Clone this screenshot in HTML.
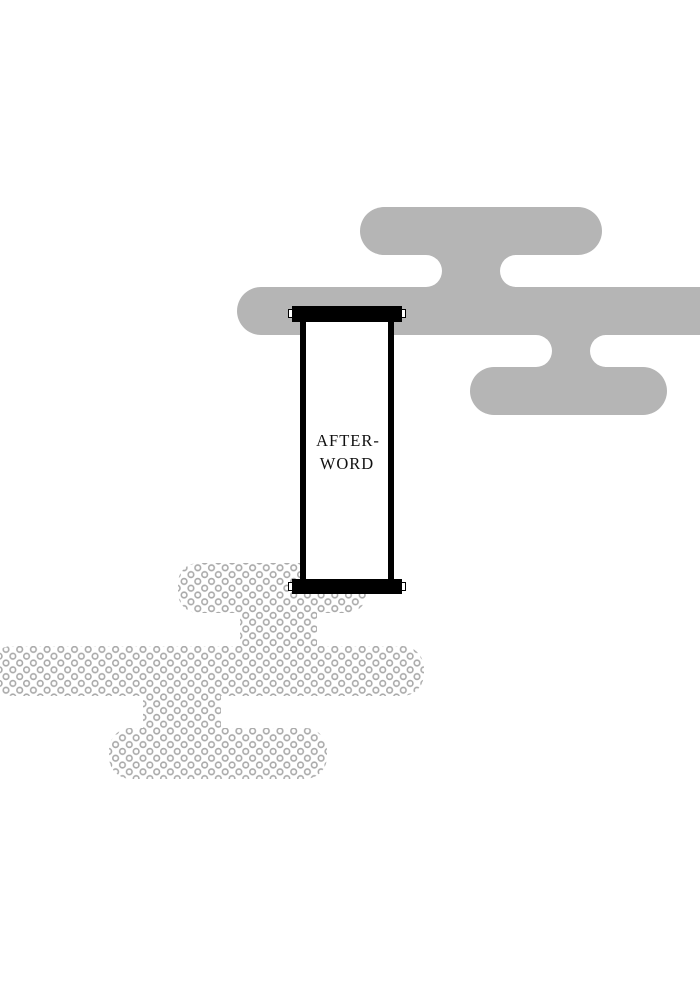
<!DOCTYPE html>
<html><head><meta charset="utf-8"><style>
html,body{margin:0;padding:0;background:#fff;width:700px;height:1005px;overflow:hidden}
svg{display:block}
</style></head><body>
<svg width="700" height="1005" viewBox="0 0 700 1005" xmlns="http://www.w3.org/2000/svg">
<defs>
<pattern id="dots" patternUnits="userSpaceOnUse" x="0" y="642.6" width="13.7" height="13.6">
<circle cx="6" cy="6.8" r="2.8" fill="none" stroke="#aaa" stroke-width="1.6"/>
<circle cx="12.85" cy="13.6" r="2.8" fill="none" stroke="#aaa" stroke-width="1.6"/>
<circle cx="-0.85" cy="13.6" r="2.8" fill="none" stroke="#aaa" stroke-width="1.6"/>
<circle cx="12.85" cy="0" r="2.8" fill="none" stroke="#aaa" stroke-width="1.6"/>
<circle cx="-0.85" cy="0" r="2.8" fill="none" stroke="#aaa" stroke-width="1.6"/>
</pattern>
<clipPath id="cl">
<rect x="178" y="563" width="189" height="50" rx="20"/>
<rect x="240" y="600" width="77" height="55"/>
<rect x="-10" y="646" width="434" height="50" rx="22"/>
<rect x="143" y="685" width="78" height="50"/>
<rect x="109" y="728" width="218" height="51" rx="22"/>
</clipPath>
</defs>
<rect x="0" y="540" width="440" height="260" fill="url(#dots)" clip-path="url(#cl)"/>

<g fill="#b5b5b5">
<rect x="360" y="207" width="242" height="48" rx="24"/>
<rect x="237" y="287" width="500" height="48" rx="24"/>
<rect x="470" y="367" width="197" height="48" rx="24"/>
<rect x="425" y="240" width="90" height="60"/>
<rect x="530" y="320" width="75" height="60"/>
</g>
<g fill="#fff">
<rect x="300" y="255" width="142" height="32" rx="16"/>
<rect x="500" y="255" width="240" height="32" rx="16"/>
<rect x="400" y="335" width="152" height="32" rx="16"/>
<rect x="590" y="335" width="150" height="32" rx="16"/>
</g>

<rect x="300" y="316" width="94" height="270" fill="#fff"/>
<rect x="300" y="316" width="6" height="270" fill="#000"/>
<rect x="388" y="316" width="6" height="270" fill="#000"/>
<rect x="292" y="306" width="110" height="16" fill="#000"/>
<rect x="292" y="579" width="110" height="15" fill="#000"/>
<g fill="#fff" stroke="#000" stroke-width="1">
<rect x="288.5" y="309.5" width="4" height="8"/>
<rect x="401.5" y="309.5" width="4" height="8"/>
<rect x="288.5" y="582.5" width="4" height="8"/>
<rect x="401.5" y="582.5" width="4" height="8"/>
</g>
<g font-family="Liberation Serif, serif" font-size="16.5" fill="#111" text-anchor="middle" letter-spacing="1">
<text x="348" y="446">AFTER-</text>
<text x="347" y="469">WORD</text>
</g>
</svg>
</body></html>
